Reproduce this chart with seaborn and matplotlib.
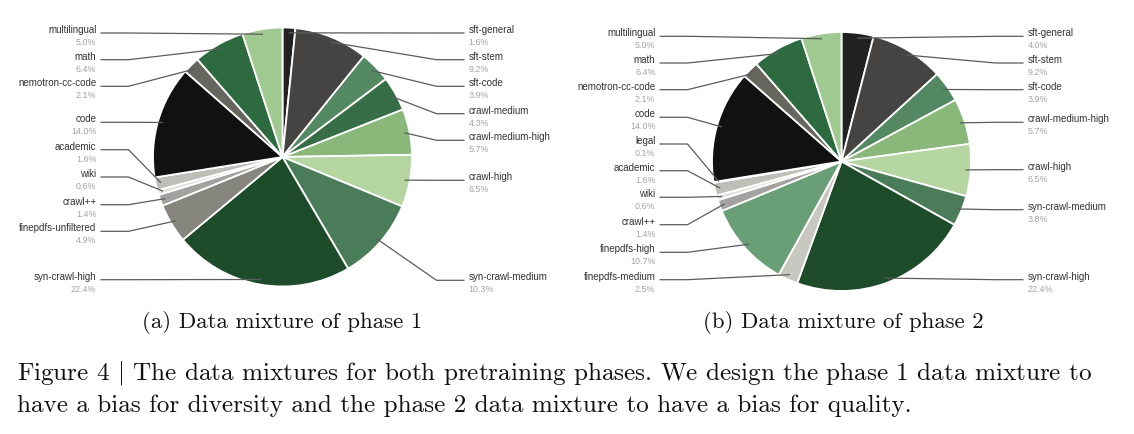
import numpy as np
import matplotlib
matplotlib.use("Agg")
import matplotlib.pyplot as plt
import seaborn as sns

# ---------------- data ----------------
phase1_labels = ["sft-general", "sft-stem", "sft-code", "crawl-medium", "crawl-medium-high",
                 "crawl-high", "syn-crawl-medium", "syn-crawl-high", "finepdfs-unfiltered",
                 "crawl++", "wiki", "academic", "code", "nemotron-cc-code", "math", "multilingual"]
phase1_values = [1.6, 9.2, 3.9, 4.3, 5.7, 6.5, 10.3, 22.4, 4.9, 1.4, 0.6, 1.6, 14.0, 2.1, 6.4, 5.0]

phase2_labels = ["sft-general", "sft-stem", "sft-code", "crawl-medium-high", "crawl-high",
                 "syn-crawl-medium", "syn-crawl-high", "finepdfs-medium", "finepdfs-high",
                 "crawl++", "wiki", "academic", "legal", "code", "nemotron-cc-code", "math",
                 "multilingual"]
phase2_values = [4.0, 9.2, 3.9, 5.7, 6.5, 3.8, 22.4, 2.5, 10.7, 1.4, 0.6, 1.6, 0.1, 14.0, 2.1, 6.4, 5.0]

subcaption1 = "(a) Data mixture of phase 1"
subcaption2 = "(b) Data mixture of phase 2"
caption_line1 = "Figure 4 $|$ The data mixtures for both pretraining phases. We design the phase 1 data mixture to"
caption_line2 = "have a bias for diversity and the phase 2 data mixture to have a bias for quality."

# ---------------- styles ----------------
colors = {
    "sft-general": "#222222", "sft-stem": "#454443", "sft-code": "#538862",
    "crawl-medium": "#386e47", "crawl-medium-high": "#8ab87b", "crawl-high": "#b5d5a1",
    "syn-crawl-medium": "#4b7c5a", "syn-crawl-high": "#1e4c2b", "finepdfs-unfiltered": "#86867f",
    "finepdfs-medium": "#c8c8c0", "finepdfs-high": "#6a9e76",
    "crawl++": "#a3a29f", "wiki": "#e2e2da", "academic": "#bfbfba", "legal": "#8a8a86",
    "code": "#111111", "nemotron-cc-code": "#66665f", "math": "#2d6a40", "multilingual": "#a0c891",
}

# ---------------- layout (pixel geometry) ----------------
W, H = 1134, 435
pies = [
    dict(labels=phase1_labels, values=phase1_values, cx=282.5, cy=158.0, r=129.5,
         label_y=[30, 56.7, 83.3, 110.7, 137.3, 177.3, 277.3, 276.7, 228.3, 201.7,
                  174, 146.7, 119.3, 83.3, 56.7, 30],
         cap=subcaption1, cap_x=282.4),
    dict(labels=phase2_labels, values=phase2_values, cx=841.5, cy=162.5, r=129.5,
         label_y=[33.3, 60, 86.7, 119.3, 166.7, 206.7, 276.7, 276.7, 249.3, 221.7,
                  194.3, 167.7, 141, 114.3, 86.7, 60, 33.3],
         cap=subcaption2, cap_x=843.3),
]
ELBOW, LINE_END, TEXT_OFF = 154, 182, 186
ANCHOR_FRAC = 0.96

sns.set_theme(style="white")
plt.rcParams["font.family"] = ["Liberation Sans", "DejaVu Sans"]
plt.rcParams["mathtext.fontset"] = "cm"

fig = plt.figure(figsize=(W / 100, H / 100), dpi=100)
ax = fig.add_axes([0, 0, 1, 1])

for p in pies:
    cx, cy, r = p["cx"], H - p["cy"], p["r"]
    wedges, _ = ax.pie(p["values"], colors=[colors[l] for l in p["labels"]],
                       startangle=90, counterclock=False, center=(cx, cy), radius=r,
                       wedgeprops=dict(edgecolor="white", linewidth=1.3))
    for w, lab, val, ly in zip(wedges, p["labels"], p["values"], p["label_y"]):
        mid = np.deg2rad((w.theta1 + w.theta2) / 2)
        axp, ayp = cx + ANCHOR_FRAC * r * np.cos(mid), cy + ANCHOR_FRAC * r * np.sin(mid)
        side = 1 if np.cos(mid) >= 0 else -1
        y_name = H - ly
        y_line = y_name - 4
        ax.plot([axp, cx + side * ELBOW, cx + side * LINE_END], [ayp, y_line, y_line],
                color="#5c5c5c", lw=0.9, solid_capstyle="butt", zorder=3)
        ha = "left" if side > 0 else "right"
        ax.text(cx + side * TEXT_OFF, y_name, lab, ha=ha, va="center",
                fontsize=7, color="#333333")
        ax.text(cx + side * TEXT_OFF, y_name - 12.5, f"{val:.1f}%", ha=ha, va="center",
                fontsize=6.4, color="#a3a3a3")

ax.set_xlim(0, W)
ax.set_ylim(0, H)
ax.set_aspect("auto")
ax.axis("off")

# captions (sized to fit measured widths)
fig.canvas.draw()
renderer = fig.canvas.get_renderer()

def fit(t, target_w):
    bb = t.get_window_extent(renderer)
    t.set_fontsize(t.get_fontsize() * target_w / bb.width)

caps = []
for p in pies:
    t = ax.text(p["cap_x"], H - 328, p["cap"], ha="center", va="baseline",
                family="cmr10", fontsize=13, color="#111111")
    caps.append(t)
for t in caps:
    fit(t, 281)

l1 = ax.text(16.7, H - 380, caption_line1, ha="left", va="baseline",
             family="cmr10", fontsize=14, color="#111111")
l2 = ax.text(16.7, H - 412, caption_line2, ha="left", va="baseline",
             family="cmr10", fontsize=14, color="#111111")
fit(l2, 893)
l1.set_fontsize(l2.get_fontsize())

fig.savefig("out.png", dpi=100, facecolor="white")
